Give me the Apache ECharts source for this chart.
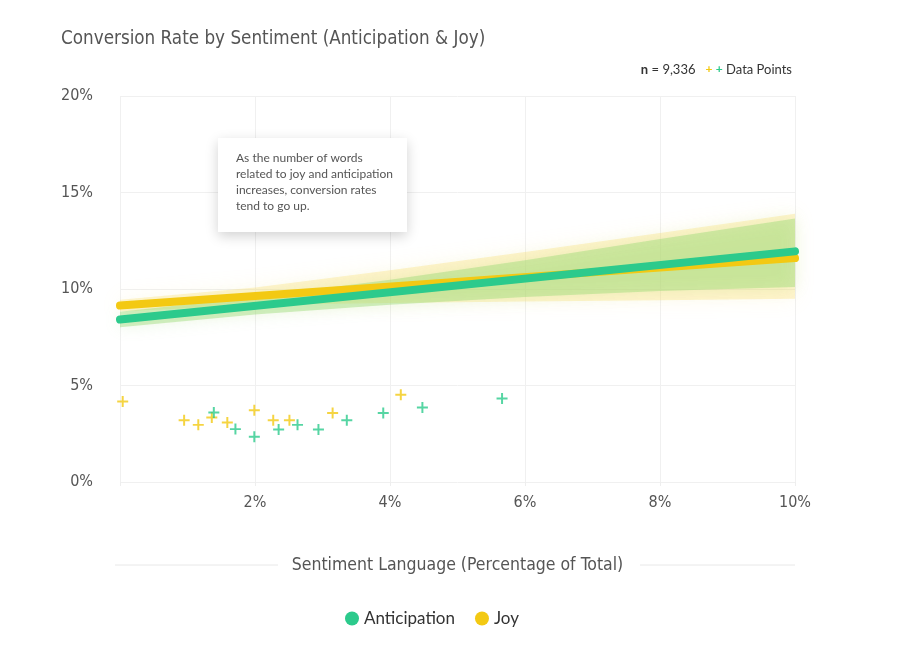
<!DOCTYPE html>
<html>
<head>
<meta charset="utf-8">
<script src="https://cdn.jsdelivr.net/npm/echarts@6/dist/echarts.min.js"></script>
<style>
html,body{margin:0;padding:0;background:#fff;}
#chart{width:920px;height:654px;}
</style>
</head>
<body>
<div id="chart"></div>
<script>
// ---- Data ----
const anticipationX = [1.39, 1.71, 1.99, 2.35, 2.63, 2.94, 3.36, 3.90, 4.48, 5.66];
const anticipationY = [3.60, 2.74, 2.35, 2.72, 2.96, 2.72, 3.20, 3.57, 3.86, 4.33];
const joyX = [0.04, 0.95, 1.16, 1.36, 1.59, 1.99, 2.27, 2.51, 3.15, 4.16];
const joyY = [4.17, 3.20, 2.96, 3.34, 3.08, 3.72, 3.20, 3.20, 3.57, 4.52];

const trendX = [0, 10];
const anticipationTrend = [8.42, 11.95];
const joyTrend = [9.14, 11.60];

const bandX = [0, 2, 4, 6, 8, 10];
const anticipationLow = [8.02, 8.68, 9.18, 9.59, 9.89, 10.10];
const anticipationHigh = [8.82, 9.58, 10.48, 11.49, 12.59, 13.65];
const joyLow = [8.84, 9.18, 9.27, 9.35, 9.42, 9.50];
const joyHigh = [9.44, 10.08, 10.97, 11.92, 12.90, 13.90];

const xTicks = [0, 2, 4, 6, 8, 10];
const yTicks = [0, 5, 10, 15, 20];

const seriesNames = ['Anticipation', 'Joy'];
const annotationText = 'As the number of words\nrelated to joy and anticipation\nincreases, conversion rates\ntend to go up.';

// ---- Styles ----
const GREEN = '#2cca8c';
const YELLOW = '#f3c913';
const FONT = "'DejaVu Sans Condensed','Roboto',sans-serif";
const FONT2 = "'Lato','Open Sans',sans-serif";
const PLUS = 'path://M4.1,0H5.9V4.1H10V5.9H5.9V10H4.1V5.9H0V4.1H4.1Z';

const zip = (a, b) => a.map((v, i) => [v, b[i]]);

function bandSeries(name, low, high, color, blur) {
  return {
    type: 'custom',
    name: name,
    silent: true,
    z: 1,
    data: bandX.map((x, i) => [x, low[i], high[i]]),
    renderItem: function (params, api) {
      if (params.dataIndex !== 0) return null;
      const top = bandX.map((x, i) => api.coord([x, high[i]]));
      const bot = bandX.map((x, i) => api.coord([x, low[i]])).reverse();
      return {
        type: 'polygon',
        shape: { points: top.concat(bot) },
        style: { fill: color, shadowBlur: blur, shadowColor: color }
      };
    }
  };
}

const chart = echarts.init(document.getElementById('chart'));
chart.setOption({
  animation: false,
  title: {
    text: 'Conversion Rate by Sentiment (Anticipation & Joy)',
    left: 56, top: 25,
    textStyle: { fontFamily: FONT, fontSize: 18.7, fontWeight: 'normal', color: '#555' }
  },
  grid: { left: 120, right: 125, top: 96, bottom: 172 },
  legend: {
    data: seriesNames,
    top: 605,
    left: 340,
    icon: 'circle',
    itemWidth: 14, itemHeight: 14,
    itemGap: 20,
    textStyle: { fontFamily: FONT2, fontSize: 17, color: '#333' }
  },
  xAxis: {
    type: 'value', min: 0, max: 10, interval: 2,
    name: 'Sentiment Language (Percentage of Total)',
    nameLocation: 'middle', nameGap: 74,
    nameTextStyle: { fontFamily: FONT, fontSize: 17.5, color: '#555' },
    axisLine: { show: false },
    axisTick: { show: true, length: 4, lineStyle: { color: '#eee' } },
    axisLabel: {
      margin: 13, fontFamily: FONT, fontSize: 16, color: '#555',
      formatter: v => (v === 0 ? '' : v + '%')
    },
    splitLine: { show: true, lineStyle: { color: '#f0f0f0' } }
  },
  yAxis: {
    type: 'value', min: 0, max: 20, interval: 5,
    axisLine: { show: false },
    axisTick: { show: false },
    axisLabel: { margin: 27, fontFamily: FONT, fontSize: 16, color: '#555', formatter: v => v + '%' },
    splitLine: { show: true, lineStyle: { color: '#f0f0f0' } }
  },
  graphic: [
    { type: 'line', z: 100, shape: { x1: 115, y1: 565, x2: 278, y2: 565 }, style: { stroke: '#e8e8e8', lineWidth: 1 } },
    { type: 'line', z: 100, shape: { x1: 640, y1: 565, x2: 795, y2: 565 }, style: { stroke: '#e8e8e8', lineWidth: 1 } },
    {
      type: 'text', right: 128, top: 63, z: 100,
      style: {
        text: '{b|n} = 9,336   {y|+} {g|+} Data Points',
        rich: {
          b: { fontWeight: 'bold', fontFamily: FONT2, fontSize: 13, fill: '#333' },
          y: { fill: YELLOW, fontFamily: FONT2, fontSize: 12, fontWeight: 'bold' },
          g: { fill: GREEN, fontFamily: FONT2, fontSize: 12, fontWeight: 'bold' }
        },
        font: "13px 'Lato','Open Sans',sans-serif",
        fill: '#333'
      }
    },
    {
      type: 'rect', z: 100, x: 218, y: 138,
      shape: { x: 0, y: 0, width: 189, height: 94 },
      style: { fill: '#fff', shadowBlur: 12, shadowOffsetY: 4, shadowColor: 'rgba(0,0,0,0.18)' }
    },
    {
      type: 'text', z: 101, x: 236, y: 150,
      style: {
        text: annotationText,
        font: "12px 'Lato','Open Sans',sans-serif",
        fill: '#555', lineHeight: 16
      }
    }
  ],
  series: [
    bandSeries('Joy band outer', joyLow, joyHigh, 'rgba(252,226,130,0.38)', 20),
    bandSeries('Anticipation band', anticipationLow, anticipationHigh, 'rgba(150,218,115,0.42)', 16),
    {
      type: 'line', name: 'Joy', data: zip(trendX, joyTrend),
      symbol: 'none', z: 3,
      lineStyle: { color: YELLOW, width: 8, cap: 'round' },
      itemStyle: { color: YELLOW }
    },
    {
      type: 'line', name: 'Anticipation', data: zip(trendX, anticipationTrend),
      symbol: 'none', z: 4,
      lineStyle: { color: GREEN, width: 8, cap: 'round' },
      itemStyle: { color: GREEN }
    },
    {
      type: 'scatter', name: 'Joy points', data: zip(joyX, joyY),
      symbol: PLUS, symbolSize: 11, z: 5,
      itemStyle: { color: YELLOW }
    },
    {
      type: 'scatter', name: 'Anticipation points', data: zip(anticipationX, anticipationY),
      symbol: PLUS, symbolSize: 11, z: 5,
      itemStyle: { color: GREEN }
    }
  ]
});
</script>
</body>
</html>
